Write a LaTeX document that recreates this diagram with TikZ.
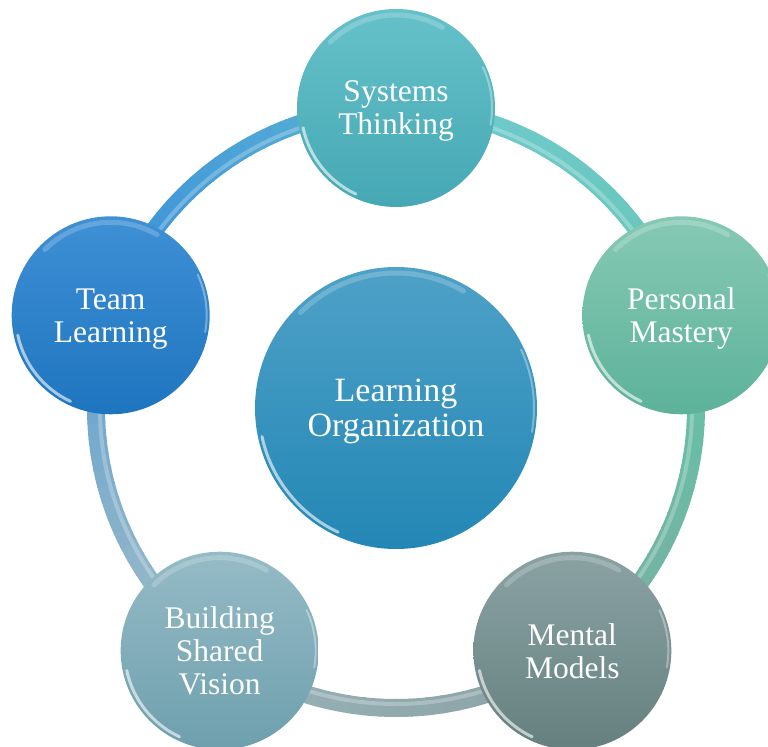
\documentclass[tikz,border=0pt]{standalone}
\usepackage{fontspec}
\setmainfont{Liberation Serif}
\usepackage{xcolor}
\usepackage{tikz}
\usetikzlibrary{positioning,calc}

% ball colours (top / bottom) and ring colours
\definecolor{systop}{HTML}{66C1C9}
\definecolor{sysbot}{HTML}{45A8B4}
\definecolor{pertop}{HTML}{86C9B4}
\definecolor{perbot}{HTML}{5DB299}
\definecolor{mentop}{HTML}{8BA2A3}
\definecolor{menbot}{HTML}{65807F}
\definecolor{bsvtop}{HTML}{95BBC6}
\definecolor{bsvbot}{HTML}{6E9FAD}
\definecolor{teatop}{HTML}{3F90D5}
\definecolor{teabot}{HTML}{1E75BF}
\definecolor{hubtop}{HTML}{4EA1C7}
\definecolor{hubbot}{HTML}{2387B5}
\definecolor{sysring}{HTML}{6FCBD2}
\definecolor{perring}{HTML}{63C3A4}
\definecolor{menring}{HTML}{8AA1A3}
\definecolor{bsvring}{HTML}{A2BEC6}
\definecolor{tearing}{HTML}{3A8ED8}

\newcommand\ballfont{\fontsize{31.5bp}{33bp}\selectfont}
\newcommand\hubfont{\fontsize{34bp}{35bp}\selectfont}

\tikzset{
    ball/.style={circle, inner sep=0pt, minimum size=198bp, text depth=0pt, text=white, align=center, font=\ballfont},
    hubball/.style={ball, minimum size=282bp, font=\hubfont},
    shine/.style={white, line width=3bp, opacity=0.6, line cap=round},
    sheen/.style={white, line width=5bp, opacity=0.2, line cap=round}
}

\begin{document}
\begin{tikzpicture}[x=1bp, y=1bp]
    \useasboundingbox (-396,-339) rectangle (372,408);

    % Ring, one gradient arc per pair of neighbours
    \foreach \k/\ca/\cb in {0/sysring/perring, 1/perring/menring, 2/menring/bsvring, 3/bsvring/tearing, 4/tearing/sysring} {
        \foreach \s in {0,...,23} {
            \pgfmathsetmacro\a{90-72*\k-3*\s}
            \pgfmathtruncatemacro\p{100-60*\s/23}
            \draw[line width=18bp, color=\ca!\p!\cb] (\a:300) arc[start angle=\a, end angle=\a-3.3, radius=300];
        }
    }
    \draw[white, opacity=0.25, line width=4bp] (0,0) circle (296);

    % Centre
    \node[hubball, top color=hubtop, bottom color=hubbot] (hub) at (0,0) {Learning\\Organization};

    % Outer balls
    \node[ball, top color=systop, bottom color=sysbot] (sys) at (90:300) {Systems\\Thinking};
    \node[ball, top color=pertop, bottom color=perbot] (per) at (18:300) {Personal\\Mastery};
    \node[ball, top color=mentop, bottom color=menbot] (men) at (-54:300) {Mental\\Models};
    \node[ball, top color=bsvtop, bottom color=bsvbot] (bsv) at (-126:300) {Building\\Shared\\Vision};
    \node[ball, top color=teatop, bottom color=teabot] (tea) at (162:300) {Team\\Learning};

    % Gloss on the rims
    \foreach \n/\r in {sys/95, per/95, men/95, bsv/95, tea/95, hub/137} {
        \draw[shine] ([shift={(192:\r)}]\n.center) arc[start angle=192, end angle=245, radius=\r];
        \draw[sheen] ([shift={(60:\r-2)}]\n.center) arc[start angle=60, end angle=135, radius=\r-2];
        \draw[shine, opacity=0.35, line width=2bp] ([shift={(-10:\r+1)}]\n.center) arc[start angle=-10, end angle=25, radius=\r+1];
    }
\end{tikzpicture}
\end{document}
